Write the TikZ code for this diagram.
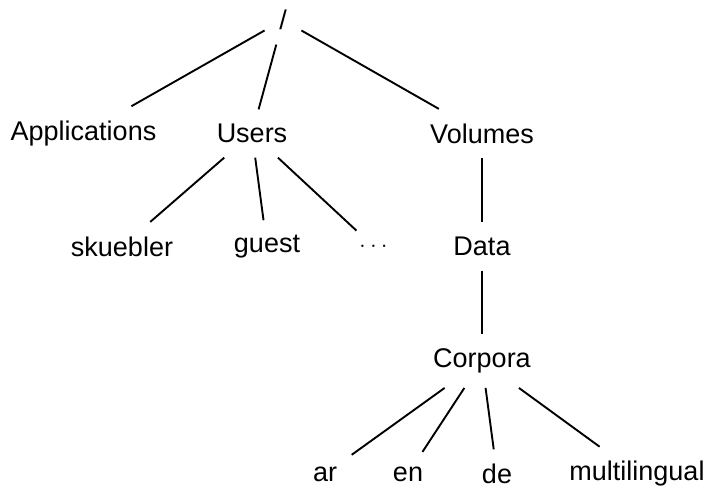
\documentclass[tikz,border=0pt]{standalone}
\usepackage{fontspec}
\setmainfont{Liberation Sans}
\begin{document}
\begin{tikzpicture}[x=1pt,y=-1pt,
  every node/.style={font=\fontsize{27}{32}\selectfont, inner sep=14.5pt, text=black},
  edge/.style={line width=1.9pt, draw=black}]
\useasboundingbox[fill=white] (0,0) rectangle (709,485);
\node (root) at (283,20) {/};
\node (apps) at (83.5,133.5) {Applications};
\node (users) at (252,133.5) {Users};
\node (vol) at (482,133.5) {Volumes};
\node (sk) at (122,246.5) {skuebler};
\node (guest) at (267,246.5) {guest};
\node (dots) at (373.5,246.5) {$\ldots$};
\node (data) at (482,246.5) {Data};
\node (corp) at (482,361) {Corpora};
\node (ar) at (325,474) {ar};
\node (en) at (408,474) {en};
\node (de) at (497,474) {de};
\node (multi) at (637,474) {multilingual};
\draw[edge] (root) -- (apps);
\draw[edge] (root) -- (users);
\draw[edge] (root) -- (vol);
\draw[edge] (users) -- (sk);
\draw[edge] (users) -- (guest);
\draw[edge] (users) -- (dots);
\draw[edge] (vol) -- (data);
\draw[edge] (data) -- (corp);
\draw[edge] (corp) -- (ar);
\draw[edge] (corp) -- (en);
\draw[edge] (corp) -- (de);
\draw[edge] (corp) -- (multi);
\end{tikzpicture}
\end{document}
